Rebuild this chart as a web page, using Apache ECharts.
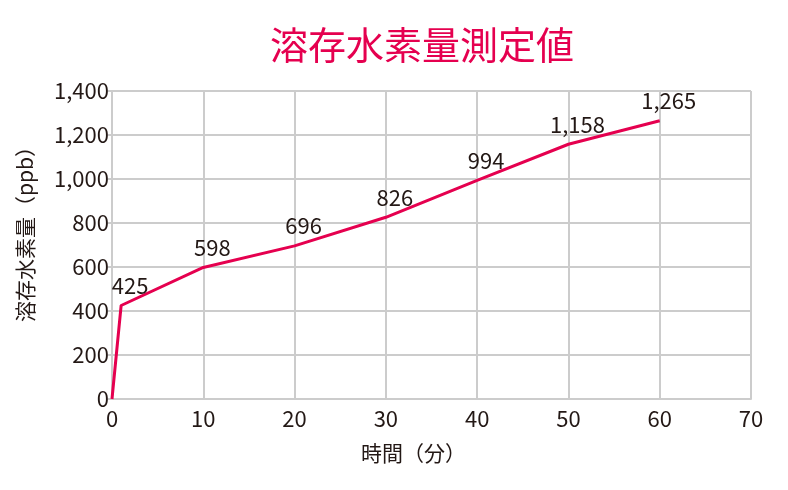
<!DOCTYPE html>
<html>
<head>
<meta charset="utf-8">
<script src="https://cdn.jsdelivr.net/npm/echarts@6/dist/echarts.min.js"></script>
<style>
  html, body { margin: 0; padding: 0; background: #fff; }
  #chart { width: 788px; height: 490px; }
</style>
</head>
<body>
<div id="chart"></div>
<script>
// 測定時間（分）と溶存水素量（ppb）
let times = [0, 1, 10, 20, 30, 40, 50, 60]
let values = [0, 425, 598, 696, 826, 994, 1158, 1265]

let fontJp = '"Noto Sans CJK JP", "Noto Sans", sans-serif'
let gridColor = '#cccccc'
let textColor = '#231815'
let lineColor = '#e5004f'

let myChart = echarts.init(document.getElementById('chart'))

let points = times.map((t, i) => [t, values[i]])

let option = {
  animation: false,
  title: {
    text: '溶存水素量測定値',
    left: 265,
    top: 21,
    textStyle: { color: lineColor, fontSize: 38, fontWeight: 'normal', fontFamily: fontJp }
  },
  grid: { left: 112, right: 37, top: 91, bottom: 91 },
  xAxis: {
    type: 'value',
    min: 0,
    max: 70,
    interval: 10,
    name: '時間（分）',
    nameLocation: 'middle',
    nameGap: 44,
    nameTextStyle: { color: textColor, fontSize: 21, fontFamily: fontJp, padding: [0, 36, 0, 0] },
    axisLine: { lineStyle: { color: gridColor, width: 2 } },
    axisTick: { show: false },
    axisLabel: { color: textColor, fontSize: 22, fontFamily: fontJp, margin: 9 },
    splitLine: { show: true, lineStyle: { color: gridColor, width: 2 } }
  },
  yAxis: {
    type: 'value',
    min: 0,
    max: 1400,
    interval: 200,
    name: '溶存水素量（ppb）',
    nameLocation: 'middle',
    nameGap: 76,
    nameTextStyle: { color: textColor, fontSize: 21, fontFamily: fontJp, padding: [0, 0, 0, 32] },
    axisLine: { show: true, lineStyle: { color: gridColor, width: 2 } },
    axisTick: { show: true, length: 4, lineStyle: { color: gridColor, width: 2 } },
    axisLabel: {
      color: textColor,
      fontSize: 22,
      fontFamily: fontJp,
      margin: 3,
      formatter: v => v.toLocaleString('en-US')
    },
    splitLine: { show: true, lineStyle: { color: gridColor, width: 2 } }
  },
  series: [{
    type: 'line',
    data: points,
    symbol: 'circle',
    symbolSize: 2,
    showSymbol: true,
    showAllSymbol: true,
    itemStyle: { color: 'transparent', borderWidth: 0 },
    lineStyle: { color: lineColor, width: 3 },
    labelLayout: { hideOverlap: false },
    label: {
      show: true,
      position: 'top',
      distance: 8,
      padding: [0, 0, 0, 18],
      color: textColor,
      fontSize: 22,
      fontFamily: fontJp,
      formatter: p => p.dataIndex === 0 ? '' : Number(p.value[1]).toLocaleString('en-US')
    }
  }]
}

myChart.setOption(option)
</script>
</body>
</html>
